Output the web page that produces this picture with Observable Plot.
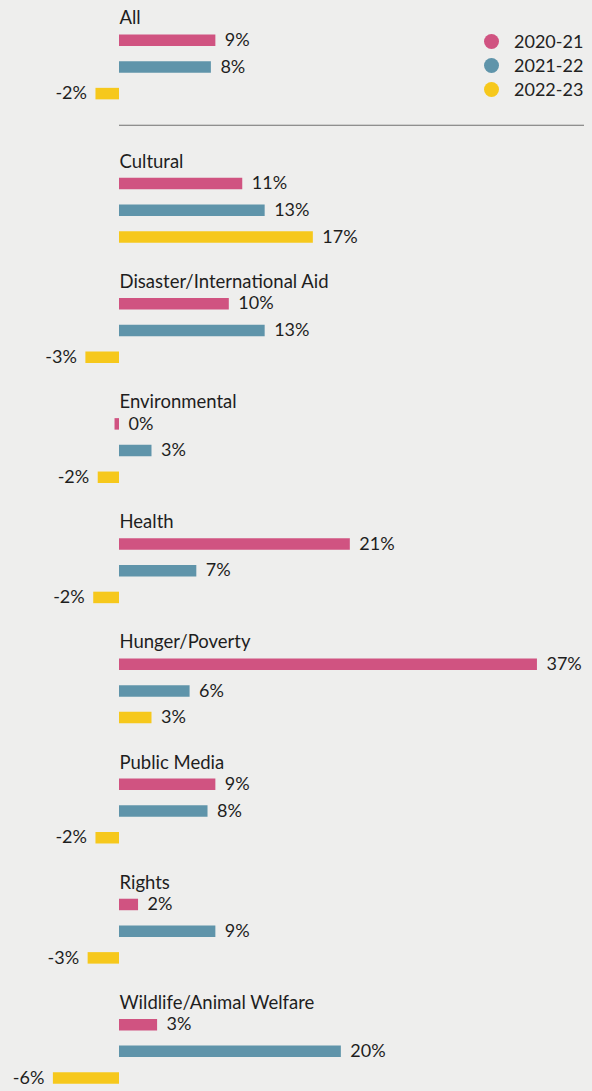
<!DOCTYPE html>
<html>
<head>
<meta charset="utf-8">
<script src="https://cdn.jsdelivr.net/npm/d3@7"></script>
<script src="https://cdn.jsdelivr.net/npm/@observablehq/plot@0.6"></script>
<style>
  html, body { margin: 0; padding: 0; background: #eeeeed; }
  #wrap { position: relative; width: 592px; height: 1091px; overflow: hidden; font-family: Lato, "Open Sans", sans-serif; }
  #legend { position: absolute; left: 484px; top: 29px; }
  .row { display: flex; align-items: center; height: 24px; font-size: 18px; color: #222; }
  .sw { width: 15px; height: 15px; border-radius: 50%; margin-right: 15px; flex: none; }
</style>
</head>
<body>
<div id="wrap">
  <div id="chart"></div>
  <div id="legend"></div>
</div>
<script>
// ---- data (percent change) ----
const categories = [
  "All",
  "Cultural",
  "Disaster/International Aid",
  "Environmental",
  "Health",
  "Hunger/Poverty",
  "Public Media",
  "Rights",
  "Wildlife/Animal Welfare"
];
const years = ["2020-21", "2021-22", "2022-23"];
const growth2020_21 = [8.6, 11.0, 9.8, -0.4, 20.6, 37.3, 8.6, 1.7, 3.4];
const growth2021_22 = [8.2, 13.0, 13.0, 2.9, 6.9, 6.3, 7.9, 8.6, 19.8];
const growth2022_23 = [-2.1, 17.3, -3.0, -1.9, -2.3, 2.9, -2.1, -2.8, -5.9];
const colors = ["#d05381", "#5f94aa", "#f6c81c"];

// ---- layout in row units (one row = one bar pitch) ----
const GROUP = 4.5;   // rows per category block (label + 3 bars + gap)
const SEP = 0.87;    // extra room after the "All" block for the divider
const rowPos = (g, i) => i + g * GROUP + (g > 0 ? SEP : 0);

const series = [growth2020_21, growth2021_22, growth2022_23];
const rows = categories.flatMap((c, g) =>
  years.map((yr, k) => ({ category: c, year: yr, value: series[k][g], pos: rowPos(g, k + 1) }))
);
const heads = categories.map((c, g) => ({ category: c, pos: rowPos(g, 0) }));
const divider = [(rowPos(0, 3) + rowPos(1, 0)) / 2];
const label = d => `${Math.round(d.value)}%`;
const onRight = d => Math.round(d.value) >= 0;

const chart = Plot.plot({
  width: 592,
  height: 1091,
  marginLeft: 119,
  marginRight: 8,
  marginTop: 13,
  marginBottom: 10,
  x: { domain: [0, 41.5], axis: null },
  y: { domain: [0, 40], reverse: true, axis: null },
  color: { domain: years, range: colors },
  style: { background: "transparent", fontFamily: "Lato, 'Open Sans', sans-serif", fontSize: "18px", color: "#222" },
  marks: [
    Plot.ruleY(divider, { stroke: "#6f6f6f", strokeWidth: 1.2 }),
    Plot.ruleY(rows, { y: "pos", x1: 0, x2: "value", stroke: "year", strokeWidth: 11.5 }),
    Plot.text(heads, { x: 0, y: "pos", text: "category", textAnchor: "start", dy: 5, fontSize: 18.5, fill: "#1e1e1e" }),
    Plot.text(rows.filter(onRight), {
      x: d => Math.max(0, d.value), y: "pos", text: label, textAnchor: "start", dx: 9, fontSize: 18, fill: "#1e1e1e"
    }),
    Plot.text(rows.filter(d => !onRight(d)), {
      x: "value", y: "pos", text: label, textAnchor: "end", dx: -9, fontSize: 18, fill: "#1e1e1e"
    })
  ]
});
document.getElementById("chart").appendChild(chart);

// ---- legend ----
const legend = document.getElementById("legend");
years.forEach((yr, k) => {
  const row = document.createElement("div");
  row.className = "row";
  const sw = document.createElement("span");
  sw.className = "sw";
  sw.style.background = colors[k];
  const t = document.createElement("span");
  t.textContent = yr;
  row.appendChild(sw);
  row.appendChild(t);
  legend.appendChild(row);
});
</script>
</body>
</html>
